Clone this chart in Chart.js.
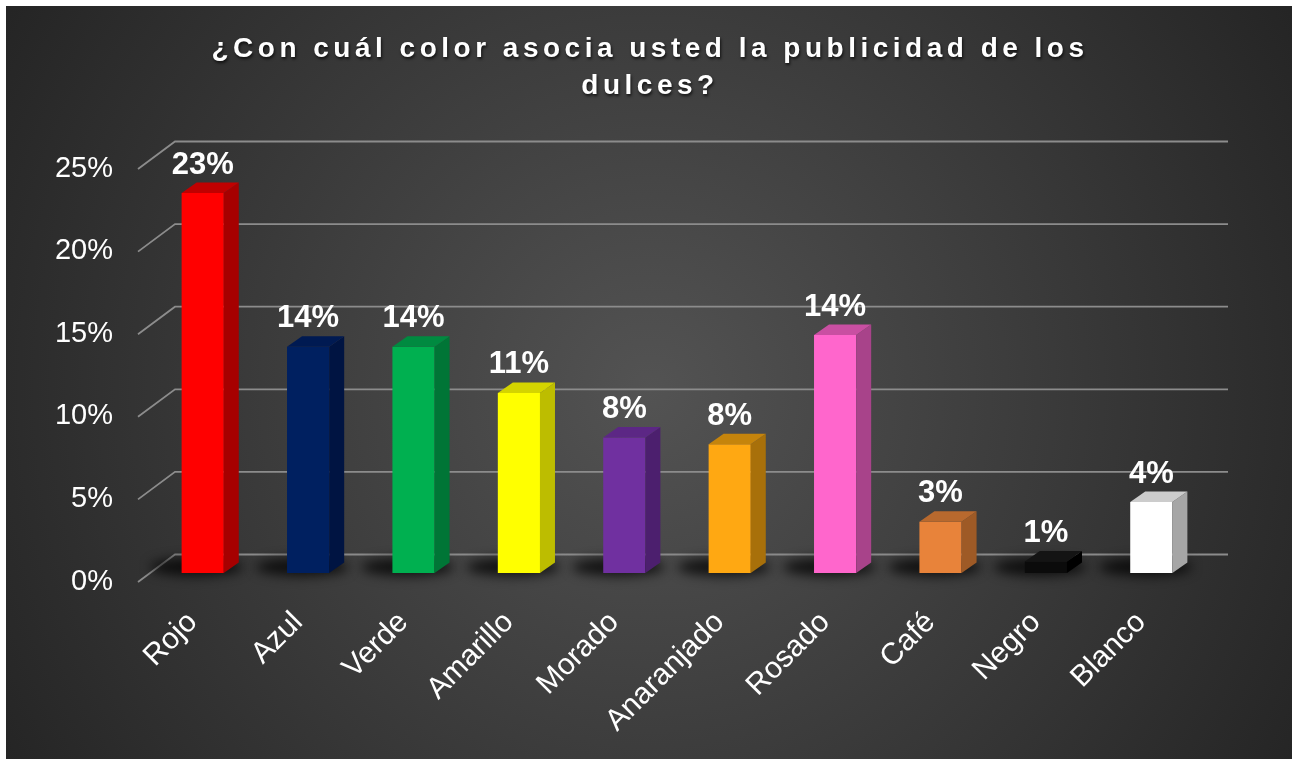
<!DOCTYPE html>
<html>
<head>
<meta charset="utf-8">
<script src="https://cdn.jsdelivr.net/npm/chart.js@4"></script>
<style>
  html, body { margin: 0; padding: 0; background: #fff; }
  canvas { display: block; }
</style>
</head>
<body>
<canvas id="chart" width="1298" height="759"></canvas>
<script>
const titleLines = ["¿Con cuál color asocia usted la publicidad de los", "dulces?"];
const categories = ["Rojo", "Azul", "Verde", "Amarillo", "Morado", "Anaranjado", "Rosado", "Café", "Negro", "Blanco"];
const percentages = [23.0, 13.7, 13.7, 10.9, 8.2, 7.8, 14.4, 3.1, 0.7, 4.3];
const yTicks = [0, 5, 10, 15, 20, 25];

const frontColors = ["#ff0000", "#002060", "#00b050", "#ffff00", "#7030a0", "#ffa812", "#ff66cc", "#e8833a", "#0b0b0b", "#ffffff"];
const sideColors  = ["#a60000", "#001442", "#007536", "#bdbd00", "#4c1f6e", "#a8700a", "#a8438a", "#9e5a26", "#000000", "#a6a6a6"];
const topColors   = ["#c00000", "#001a52", "#008a40", "#d4d400", "#5c2785", "#c5840c", "#c94fa2", "#b8692e", "#141414", "#cccccc"];

const FONT = 'Arial, "Liberation Sans", sans-serif';
const DX = 15, DY = -10.5;   // bar depth offset

// dark radial background with thin white frame
const backgroundPlugin = {
    id: "bg",
    beforeDraw(chart) {
        const ctx = chart.ctx;
        ctx.save();
        ctx.fillStyle = "#ffffff";
        ctx.fillRect(0, 0, chart.width, chart.height);
        const g = ctx.createRadialGradient(650, 390, 0, 650, 390, 760);
        g.addColorStop(0, "#535353");
        g.addColorStop(1, "#242424");
        ctx.fillStyle = g;
        ctx.fillRect(6, 6, 1286, 753);
        ctx.restore();
    }
};

// perspective gridlines + soft floor shadows
const floorPlugin = {
    id: "floor",
    beforeDatasetsDraw(chart) {
        const ctx = chart.ctx;
        const y = chart.scales.y;
        const area = chart.chartArea;
        ctx.save();
        ctx.strokeStyle = "#8c8c8c";
        ctx.lineWidth = 1.8;
        yTicks.forEach(v => {
            const p = y.getPixelForValue(v);
            ctx.beginPath();
            ctx.moveTo(area.left - 12, p + 9);
            ctx.lineTo(area.left + 25, p - 18.5);
            ctx.lineTo(area.right + 24, p - 18.5);
            ctx.stroke();
        });

        ctx.filter = "blur(6px)";
        ctx.fillStyle = "rgba(0,0,0,0.75)";
        chart.getDatasetMeta(0).data.forEach(bar => {
            const { x, base, width } = bar.getProps(["x", "base", "width"], true);
            ctx.beginPath();
            ctx.ellipse(x - 6, base - 6, width * 1.1, 9, 0, 0, Math.PI * 2);
            ctx.fill();
        });
        ctx.restore();
    }
};

// side and top faces, then value labels
const depthPlugin = {
    id: "depth",
    afterDatasetsDraw(chart) {
        const ctx = chart.ctx;
        ctx.save();
        chart.getDatasetMeta(0).data.forEach((bar, i) => {
            const { x, y, base, width } = bar.getProps(["x", "y", "base", "width"], true);
            const l = x - width / 2, r = x + width / 2;

            ctx.fillStyle = sideColors[i];
            ctx.beginPath();
            ctx.moveTo(r, y);
            ctx.lineTo(r + DX, y + DY);
            ctx.lineTo(r + DX, base + DY);
            ctx.lineTo(r, base);
            ctx.closePath();
            ctx.fill();

            ctx.fillStyle = topColors[i];
            ctx.beginPath();
            ctx.moveTo(l, y);
            ctx.lineTo(l + DX, y + DY);
            ctx.lineTo(r + DX, y + DY);
            ctx.lineTo(r, y);
            ctx.closePath();
            ctx.fill();

            ctx.fillStyle = "#ffffff";
            ctx.font = "bold 31px " + FONT;
            ctx.textAlign = "center";
            ctx.textBaseline = "middle";
            ctx.fillText(Math.round(percentages[i]) + "%", x, y - 28);
        });
        ctx.restore();
    }
};

const titlePlugin = {
    id: "bigTitle",
    afterDraw(chart) {
        const ctx = chart.ctx;
        ctx.save();
        ctx.font = "bold 28px " + FONT;
        ctx.letterSpacing = "4.5px";
        ctx.textAlign = "center";
        ctx.textBaseline = "alphabetic";
        ctx.fillStyle = "#ffffff";
        ctx.shadowColor = "rgba(0,0,0,0.7)";
        ctx.shadowBlur = 3;
        ctx.shadowOffsetX = 1;
        ctx.shadowOffsetY = 2;
        ctx.fillText(titleLines[0], 650, 57);
        ctx.fillText(titleLines[1], 650, 94);
        ctx.restore();
    }
};

new Chart(document.getElementById("chart"), {
    type: "bar",
    data: {
        labels: categories,
        datasets: [{
            data: percentages,
            backgroundColor: frontColors,
            borderWidth: 0,
            barPercentage: 0.4,
            categoryPercentage: 1
        }]
    },
    options: {
        responsive: false,
        animation: false,
        devicePixelRatio: 1,
        layout: { padding: { left: 0, right: 94, top: 160, bottom: 0 } },
        plugins: {
            legend: { display: false },
            title: { display: false },
            tooltip: { enabled: false }
        },
        scales: {
            x: {
                grid: { display: false, drawTicks: false },
                border: { display: false },
                ticks: {
                    color: "#ffffff",
                    font: { family: FONT, size: 30 },
                    minRotation: 45,
                    maxRotation: 45,
                    autoSkip: false,
                    padding: 32,
                    labelOffset: -10
                },
                afterFit(s) { s.height = 186; }
            },
            y: {
                min: 0,
                max: 25,
                grid: { display: false, drawTicks: false },
                border: { display: false },
                afterBuildTicks(s) { s.ticks = yTicks.map(v => ({ value: v })); },
                ticks: {
                    color: "#ffffff",
                    font: { family: FONT, size: 29 },
                    padding: 37,
                    labelOffset: 8.5,
                    callback: v => v + "%"
                },
                afterFit(s) { s.width = 150; }
            }
        }
    },
    plugins: [backgroundPlugin, floorPlugin, depthPlugin, titlePlugin]
});
</script>
</body>
</html>
